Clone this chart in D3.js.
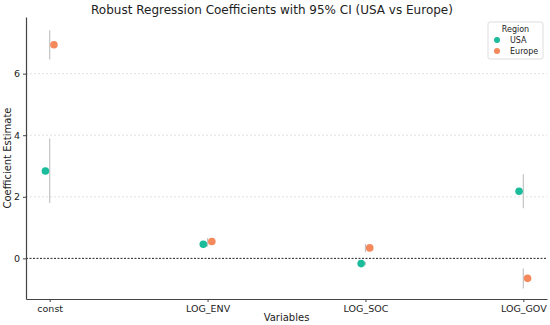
<!DOCTYPE html>
<html>
<head>
<meta charset="utf-8">
<script src="https://cdn.jsdelivr.net/npm/d3@7"></script>
<style>
  body { margin: 0; background: #fff; }
  text { font-family: "DejaVu Sans", sans-serif; fill: #222; }
</style>
</head>
<body>
<div id="chartArea"></div>
<script>
// Data
const variables = ['const', 'LOG_ENV', 'LOG_SOC', 'LOG_GOV'];
const regions = ['USA', 'Europe'];
const usaCoef = [2.84, 0.46, -0.17, 2.18];
const usaLow = [1.80, 0.38, -0.22, 1.63];
const usaHigh = [3.89, 0.55, -0.11, 2.73];
const europeCoef = [6.94, 0.55, 0.34, -0.65];
const europeLow = [6.46, 0.45, 0.20, -0.98];
const europeHigh = [7.41, 0.66, 0.47, -0.33];
const yTicks = [0, 2, 4, 6];

const colors = { USA: '#1bbc9b', Europe: '#f5895c' };

let margins = { top: 17, right: 3, bottom: 26, left: 26 };
let svgWidth = 550 - margins.left - margins.right,
    svgHeight = 325 - margins.top - margins.bottom;

let svg = d3.select('#chartArea')
    .append('svg')
    .attr('width', 550)
    .attr('height', 325);

let chart = svg.append('g')
    .attr('transform', 'translate(' + margins.left + ',' + margins.top + ')');

// Category positions, with a small padding on both ends
let xScale = d3.scaleLinear()
    .domain([-0.15, variables.length - 1 + 0.15])
    .range([0, svgWidth]);

let yScale = d3.scaleLinear()
    .domain([-1.32, 7.84])
    .range([svgHeight, 0]);

// Build rows for each region
let rows = [];
variables.forEach((v, i) => {
    rows.push({ region: 'USA', idx: i, coef: usaCoef[i], low: usaLow[i], high: usaHigh[i] });
    rows.push({ region: 'Europe', idx: i, coef: europeCoef[i], low: europeLow[i], high: europeHigh[i] });
});

// Grid lines
chart.selectAll('.grid')
    .data(yTicks.filter(d => d !== 0))
    .enter().append('line')
    .attr('x1', 0)
    .attr('x2', svgWidth)
    .attr('y1', d => yScale(d))
    .attr('y2', d => yScale(d))
    .attr('stroke', '#d9d9d9')
    .attr('stroke-width', 0.8)
    .attr('stroke-dasharray', '2,2');

// Zero reference line
chart.append('line')
    .attr('x1', 0)
    .attr('x2', svgWidth)
    .attr('y1', yScale(0))
    .attr('y2', yScale(0))
    .attr('stroke', '#222')
    .attr('stroke-width', 1)
    .attr('stroke-dasharray', '2,1.5');

// Confidence intervals (drawn at the category centre)
chart.selectAll('.ci')
    .data(rows)
    .enter().append('line')
    .attr('x1', d => xScale(d.idx))
    .attr('x2', d => xScale(d.idx))
    .attr('y1', d => yScale(d.low))
    .attr('y2', d => yScale(d.high))
    .attr('stroke', '#c4c4c4')
    .attr('stroke-width', 1.2);

// Points, dodged by region
let dodge = { USA: -0.027, Europe: 0.027 };
chart.selectAll('.dot')
    .data(rows)
    .enter().append('circle')
    .attr('r', 3.8)
    .attr('cx', d => xScale(d.idx + dodge[d.region]))
    .attr('cy', d => yScale(d.coef))
    .attr('fill', d => colors[d.region]);

// Axes
let xAxis = chart.append('g')
    .attr('transform', 'translate(0, ' + svgHeight + ')')
    .call(d3.axisBottom(xScale)
        .tickValues(d3.range(variables.length))
        .tickFormat(i => variables[i])
        .tickSize(3)
        .tickSizeOuter(0));

let yAxis = chart.append('g')
    .call(d3.axisLeft(yScale)
        .tickValues(yTicks)
        .tickFormat(d3.format('d'))
        .tickSize(3)
        .tickSizeOuter(0));

[xAxis, yAxis].forEach(a => {
    a.select('.domain').attr('stroke', '#444').attr('stroke-width', 1.2);
    a.selectAll('.tick line').attr('stroke', '#444');
    a.selectAll('.tick text').style('font-size', '9.5px').attr('fill', '#222');
});

// Axis labels
svg.append('text')
    .attr('x', margins.left + svgWidth / 2)
    .attr('y', 321)
    .attr('text-anchor', 'middle')
    .style('font-size', '10px')
    .text('Variables');

svg.append('text')
    .attr('transform', 'rotate(-90)')
    .attr('x', -(margins.top + svgHeight / 2))
    .attr('y', 11)
    .attr('text-anchor', 'middle')
    .style('font-size', '10px')
    .text('Coefficient Estimate');

// Title
svg.append('text')
    .attr('x', 272)
    .attr('y', 14)
    .attr('text-anchor', 'middle')
    .style('font-size', '12px')
    .text('Robust Regression Coefficients with 95% CI (USA vs Europe)');

// Legend
let legend = svg.append('g').attr('transform', 'translate(488, 22)');
legend.append('rect')
    .attr('width', 55)
    .attr('height', 37)
    .attr('fill', '#fff')
    .attr('stroke', '#ddd')
    .attr('rx', 2);
legend.append('text')
    .attr('x', 27.5)
    .attr('y', 10)
    .attr('text-anchor', 'middle')
    .style('font-size', '8px')
    .text('Region');
regions.forEach((r, i) => {
    legend.append('circle')
        .attr('cx', 9)
        .attr('cy', 18 + i * 11)
        .attr('r', 3)
        .attr('fill', colors[r]);
    legend.append('text')
        .attr('x', 22)
        .attr('y', 21 + i * 11)
        .style('font-size', '8px')
        .text(r);
});
</script>
</body>
</html>
